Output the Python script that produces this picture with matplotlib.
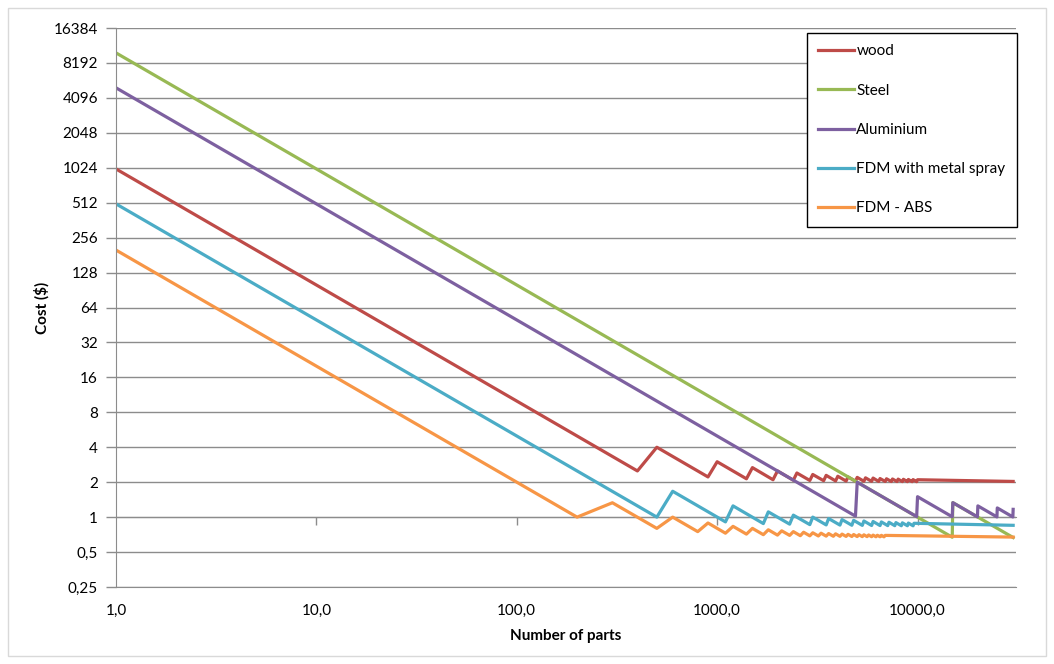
import matplotlib
matplotlib.use("Agg")
import matplotlib.pyplot as plt
from matplotlib.ticker import NullLocator
from matplotlib.patches import Rectangle

plt.rcParams['font.family'] = ['Lato', 'DejaVu Sans']

# values (corner points of each curve)
wood_n = [1, 400, 500, 900, 1000, 1400, 1500, 1900, 2000, 2400, 2500, 2900, 3000,
          3400, 3500, 3900, 4000, 4400, 4500, 4900, 5000, 5400, 5500, 5900, 6000,
          6400, 6500, 6900, 7000, 7400, 7500, 7900, 8000, 8400, 8500, 8900, 9000,
          9400, 9500, 9900, 10000, 30000]
wood_cost = [1000, 2.5, 4.0, 2.22, 3.0, 2.14, 2.67, 2.1, 2.5, 2.08, 2.4, 2.07, 2.33,
             2.06, 2.29, 2.05, 2.25, 2.045, 2.22, 2.04, 2.2, 2.037, 2.18, 2.034, 2.17,
             2.031, 2.15, 2.029, 2.14, 2.027, 2.13, 2.025, 2.125, 2.024, 2.118, 2.022,
             2.111, 2.021, 2.105, 2.02, 2.1, 2.03]

steel_n = [1, 14900, 15000, 30000]
steel_cost = [10000, 0.671, 1.333, 0.667]

alu_n = [1, 4900, 5000, 9900, 10000, 14900, 15000, 19900, 20000, 24900, 25000,
         29900, 30000]
alu_cost = [5000, 1.02, 2.0, 1.01, 1.5, 1.007, 1.333, 1.005, 1.25, 1.004, 1.2,
            1.003, 1.167]

spray_n = [1, 500, 600, 1100, 1200, 1700, 1800, 2300, 2400, 2900, 3000, 3500, 3600,
           4100, 4200, 4700, 4800, 5300, 5400, 5900, 6000, 6500, 6600, 7100, 7200,
           7700, 7800, 8300, 8400, 8900, 9000, 9500, 9600, 30000]
spray_cost = [500, 1.0, 1.67, 0.91, 1.25, 0.88, 1.11, 0.87, 1.04, 0.862, 1.0, 0.857,
              0.972, 0.854, 0.952, 0.851, 0.938, 0.849, 0.926, 0.847, 0.917, 0.846,
              0.909, 0.845, 0.903, 0.844, 0.897, 0.843, 0.893, 0.843, 0.889, 0.842,
              0.885, 0.85]

abs_n = [1, 200, 300, 500, 600, 800, 900, 1100, 1200, 1400, 1500, 1700, 1800, 2000,
         2100, 2300, 2400, 2600, 2700, 2900, 3000, 3200, 3300, 3500, 3600, 3800, 3900,
         4100, 4200, 4400, 4500, 4700, 4800, 5000, 5100, 5300, 5400, 5600, 5700, 5900,
         6000, 6200, 6300, 6500, 6600, 6800, 6900, 30000]
abs_cost = [200, 1.0, 1.33, 0.8, 1.0, 0.75, 0.89, 0.727, 0.833, 0.714, 0.8, 0.706,
            0.778, 0.7, 0.762, 0.696, 0.75, 0.692, 0.741, 0.69, 0.733, 0.688, 0.727,
            0.686, 0.722, 0.684, 0.718, 0.683, 0.714, 0.682, 0.711, 0.681, 0.708,
            0.68, 0.706, 0.679, 0.704, 0.679, 0.702, 0.678, 0.7, 0.677, 0.698, 0.677,
            0.697, 0.676, 0.696, 0.673]

series = [
    ("wood", wood_n, wood_cost, "#BE4B48"),
    ("Steel", steel_n, steel_cost, "#98B954"),
    ("Aluminium", alu_n, alu_cost, "#7D60A0"),
    ("FDM with metal spray", spray_n, spray_cost, "#4BACC6"),
    ("FDM - ABS", abs_n, abs_cost, "#F79646"),
]

x_ticks = [1, 10, 100, 1000, 10000]
x_labels = ["1,0", "10,0", "100,0", "1000,0", "10000,0"]
y_ticks = [0.25, 0.5, 1, 2, 4, 8, 16, 32, 64, 128, 256, 512, 1024, 2048, 4096, 8192, 16384]
y_labels = ["0,25", "0,5", "1", "2", "4", "8", "16", "32", "64", "128", "256", "512",
            "1024", "2048", "4096", "8192", "16384"]

grey = "#8C8C8C"

fig = plt.figure(figsize=(10.54, 6.64), dpi=100)
ax = fig.add_axes([116 / 1054, 1 - 587 / 664, 900 / 1054, 559 / 664])

for name, n, c, col in series:
    ax.plot(n, c, color=col, lw=2.3, label=name, solid_joinstyle='round')

ax.set_xscale('log')
ax.set_yscale('log', base=2)
ax.set_xlim(1, 31000)
ax.set_ylim(0.25, 16384)
ax.set_xticks(x_ticks)
ax.set_xticklabels(x_labels)
ax.set_yticks(y_ticks)
ax.set_yticklabels(y_labels)
ax.xaxis.set_minor_locator(NullLocator())
ax.yaxis.set_minor_locator(NullLocator())
ax.tick_params(axis='x', length=0, pad=12, labelsize=11)
ax.tick_params(axis='y', length=7, width=1, color=grey, pad=6, labelsize=11)
ax.grid(axis='y', color=grey, lw=1)
ax.set_axisbelow(True)
for s in ['top', 'right']:
    ax.spines[s].set_visible(False)
ax.spines['left'].set_color(grey)
ax.spines['bottom'].set_color(grey)

# horizontal axis crosses at cost = 1
sec = ax.secondary_xaxis(2 / 16)
sec.set_xticks(x_ticks[1:])
sec.set_xticklabels([])
sec.xaxis.set_minor_locator(NullLocator())
sec.tick_params(axis='x', length=6, width=1, color=grey, direction='out')
sec.spines['bottom'].set_color(grey)

ax.set_xlabel("Number of parts", fontsize=11, fontweight='bold', labelpad=8)
ax.set_ylabel("Cost ($)", fontsize=11, fontweight='bold', labelpad=3)

leg = ax.legend(loc='upper right', bbox_to_anchor=(1.001, 0.991), fancybox=False,
                edgecolor='black', framealpha=1, handlelength=2.35, handletextpad=0.15,
                labelspacing=1.65, borderpad=0.75, borderaxespad=0, fontsize=11)
leg.get_frame().set_linewidth(1.0)

fig.patches.append(Rectangle((8 / 1054, 8 / 664), 1038 / 1054, 648 / 664,
                             transform=fig.transFigure, fill=False, ec='#D9D9D9', lw=1))

fig.savefig("out.png", dpi=100)
